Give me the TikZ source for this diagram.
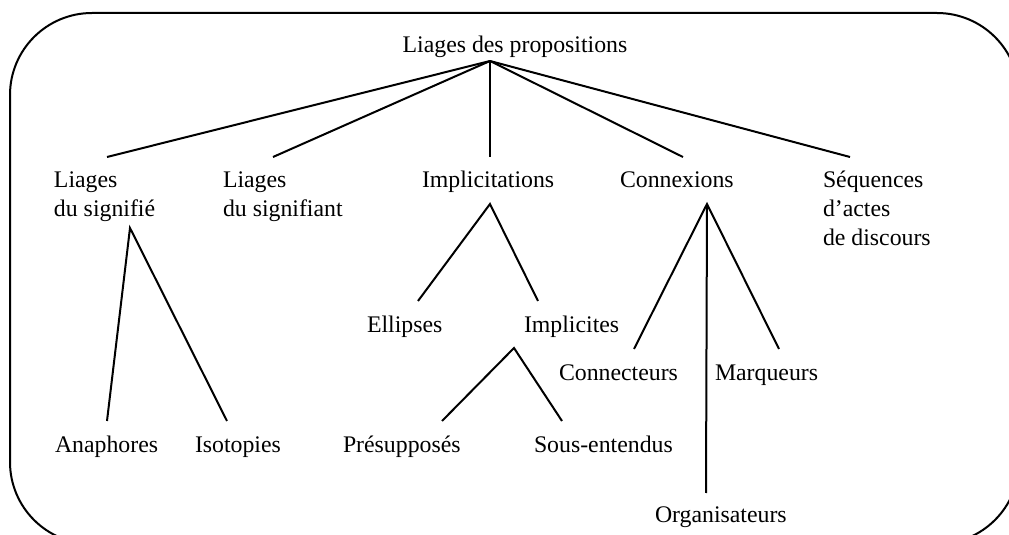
\documentclass[tikz,border=0pt]{standalone}
\usepackage{fontspec}
\setmainfont{Liberation Serif}
\begin{document}
\begin{tikzpicture}[x=0.5pt,y=-0.5pt,line width=1pt,
  lbl/.style={inner sep=0pt,anchor=base west,align=left,font=\fontsize{11.9}{14.5}\selectfont}]
\useasboundingbox (0,0) rectangle (1009,535);
\draw[rounded corners=41pt] (10,13) rectangle (1019,544);
% texts (multi-line nodes are placed by the baseline of their last line)
\node[lbl,anchor=base] (root) at (515,53) {Liages des propositions};
\node[lbl] (sgf) at (53,217) {Liages\\du signifié};
\node[lbl] (sgt) at (222,217) {Liages\\du signifiant};
\node[lbl] (impl) at (421,188) {Implicitations};
\node[lbl] (conn) at (619,188) {Connexions};
\node[lbl] (seq) at (822,246) {Séquences\\d’actes\\de discours};
\node[lbl] (ell) at (366,333) {Ellipses};
\node[lbl] (imp) at (523,333) {Implicites};
\node[lbl] (pre) at (342,452) {Présupposés};
\node[lbl] (sous) at (533,452) {Sous-entendus};
\node[lbl] (ana) at (54,452) {Anaphores};
\node[lbl] (iso) at (194,452) {Isotopies};
\node[lbl] (cont) at (558,380) {Connecteurs};
\node[lbl] (marq) at (714,380) {Marqueurs};
\node[lbl] (org) at (654,523) {Organisateurs};
% connector ends
\coordinate (r0) at (490,61);
\coordinate (e1) at (107,157);
\coordinate (e2) at (273,157);
\coordinate (e3) at (490,157);
\coordinate (e4) at (683,157);
\coordinate (e5) at (850,157);
\coordinate (a1) at (130,228);
\coordinate (anat) at (107,421);
\coordinate (isot) at (227,421);
\coordinate (a2) at (490,204);
\coordinate (ellt) at (418,301);
\coordinate (impt) at (538,301);
\coordinate (a3) at (514,348);
\coordinate (pret) at (442,421);
\coordinate (sout) at (562,421);
\coordinate (a4) at (707,204);
\coordinate (cont-t) at (634,349);
\coordinate (marq-t) at (779,349);
\coordinate (org-t) at (706,493);
% connectors
\draw (r0) -- (e1);
\draw (r0) -- (e2);
\draw (r0) -- (e3);
\draw (r0) -- (e4);
\draw (r0) -- (e5);
\draw (anat) -- (a1) -- (isot);
\draw (ellt) -- (a2) -- (impt);
\draw (pret) -- (a3) -- (sout);
\draw (cont-t) -- (a4) -- (marq-t);
\draw (a4) -- (org-t);
\end{tikzpicture}
\end{document}
